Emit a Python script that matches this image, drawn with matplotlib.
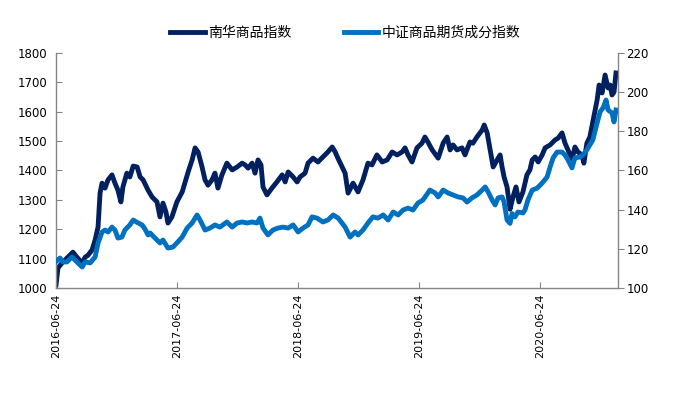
import matplotlib
matplotlib.use("Agg")
import matplotlib.pyplot as plt
import pandas as pd
import numpy as np

plt.rcParams['font.family'] = ['Noto Sans CJK SC', 'DejaVu Sans']

start_date = "2016-06-24"
end_offset_days = 1697

series_names = ["南华商品指数", "中证商品期货成分指数"]
tick_labels = ["2016-06-24", "2017-06-24", "2018-06-24", "2019-06-24", "2020-06-24"]

# 南华商品指数 (left axis): day offsets from start and values
nanhua_days = [0, 6, 18, 27, 36, 51, 63, 79, 88, 97, 109, 118, 127, 133, 139, 148, 157, 169, 178, 187,
               196, 202, 214, 223, 233, 245, 254, 263, 278, 290, 305, 314, 323, 332, 338, 350, 365, 381,
               390, 399, 411, 420, 429, 441, 450, 459, 471, 480, 489, 501, 516, 532, 547, 562, 571, 580,
               592, 601, 610, 619, 625, 637, 652, 667, 683, 692, 701, 716, 728, 737, 752, 761, 776, 791,
               806, 821, 834, 843, 852, 864, 873, 882, 897, 912, 927, 942, 954, 969, 985, 1000, 1015,
               1030, 1045, 1054, 1063, 1075, 1090, 1105, 1114, 1123, 1136, 1154, 1169, 1181, 1190, 1199,
               1211, 1226, 1235, 1250, 1259, 1271, 1287, 1293, 1302, 1311, 1320, 1332, 1341, 1347, 1353,
               1362, 1371, 1380, 1389, 1398, 1410, 1422, 1431, 1438, 1447, 1456, 1468, 1477, 1492, 1507,
               1516, 1528, 1537, 1546, 1558, 1567, 1576, 1588, 1594, 1603, 1612, 1621, 1634, 1640, 1649,
               1658, 1667, 1673, 1679, 1685, 1691]
nanhua_vals = [1010, 1068, 1085, 1095, 1105, 1122, 1105, 1085, 1105, 1112, 1130, 1163, 1208, 1323, 1357,
               1340, 1368, 1385, 1357, 1333, 1293, 1344, 1391, 1378, 1415, 1412, 1378, 1368, 1333, 1310,
               1293, 1242, 1289, 1259, 1221, 1242, 1293, 1327, 1361, 1395, 1436, 1477, 1463, 1412, 1368,
               1350, 1368, 1391, 1340, 1385, 1425, 1402, 1412, 1425, 1419, 1408, 1425, 1391, 1436, 1419,
               1344, 1317, 1340, 1361, 1385, 1361, 1395, 1378, 1361, 1378, 1391, 1425, 1442, 1429, 1446,
               1463, 1480, 1463, 1440, 1412, 1391, 1323, 1357, 1327, 1368, 1425, 1419, 1453, 1429, 1436,
               1463, 1453, 1463, 1477, 1453, 1429, 1477, 1493, 1514, 1497, 1470, 1442, 1493, 1514, 1470,
               1487, 1470, 1477, 1453, 1497, 1493, 1514, 1538, 1555, 1528, 1470, 1412, 1436, 1453, 1412,
               1378, 1344, 1268, 1310, 1344, 1293, 1327, 1385, 1402, 1436, 1446, 1429, 1453, 1477, 1487,
               1504, 1510, 1528, 1493, 1470, 1436, 1480, 1463, 1453, 1425, 1493, 1514, 1565, 1640, 1691,
               1664, 1725, 1681, 1691, 1657, 1667, 1732]

# 中证商品期货成分指数 (right axis)
csi_days = [0, 12, 21, 33, 48, 63, 79, 88, 103, 118, 127, 139, 148, 157, 169, 178, 187, 199, 208, 223,
            233, 248, 260, 269, 278, 284, 299, 314, 323, 338, 353, 365, 381, 396, 411, 426, 435, 450, 465,
            480, 495, 516, 532, 547, 562, 577, 592, 607, 616, 625, 640, 655, 670, 686, 701, 716, 731, 746,
            761, 773, 788, 806, 821, 837, 852, 873, 888, 903, 912, 927, 942, 957, 972, 988, 1003, 1018,
            1033, 1048, 1063, 1078, 1093, 1108, 1123, 1129, 1145, 1154, 1169, 1184, 1199, 1214, 1229,
            1241, 1256, 1271, 1287, 1296, 1305, 1317, 1326, 1335, 1347, 1353, 1362, 1371, 1377, 1386,
            1395, 1410, 1416, 1425, 1438, 1453, 1468, 1483, 1492, 1501, 1513, 1528, 1537, 1546, 1558,
            1567, 1582, 1591, 1603, 1612, 1621, 1634, 1643, 1652, 1661, 1667, 1679, 1685, 1691]
csi_vals = [113.5, 115.3, 113.3, 113.3, 115.8, 113.3, 110.7, 113.3, 112.8, 115.8, 123, 128.6, 129.6, 128.6,
            131.1, 129.6, 125.5, 126, 129.6, 132.2, 134.7, 133.2, 132.2, 130, 127.1, 128.1, 125.5, 123,
            124.5, 120.4, 120.9, 123, 126, 130.6, 133.2, 137.3, 134.7, 129.6, 130.6, 132.2, 131.1, 133.7,
            131.1, 133.2, 133.7, 133.2, 133.7, 133.2, 135.7, 130.6, 127.1, 129.6, 130.6, 131.1, 130.6,
            132.2, 128.6, 130.6, 132.2, 136.3, 135.7, 133.7, 134.7, 137.3, 135.7, 131.1, 126, 128.6,
            127.1, 129.6, 133.2, 136.3, 135.7, 137.3, 134.7, 138.8, 137.3, 139.8, 140.8, 139.8, 143.4,
            144.9, 148.5, 150, 148.5, 146.5, 150, 148.5, 147.5, 146.5, 146, 143.9, 146, 147.5, 150, 151.6,
            149, 144.9, 142.4, 146, 146.5, 143.9, 134.7, 133, 138, 136.3, 138.8, 138.3, 139.8, 144.9, 150,
            151, 153.6, 156.7, 161.8, 166.4, 169.4, 169.4, 167.9, 165.4, 161.3, 166.4, 166.9, 167.9, 170.5,
            173, 175.6, 184.3, 190, 192, 196, 190.9, 189.4, 184.8, 190.9]

dark = "#002060"
blue = "#0070C0"
axis_gray = "#868686"

t0 = pd.Timestamp(start_date)
nanhua_dates = t0 + pd.to_timedelta(nanhua_days, unit="D")
csi_dates = t0 + pd.to_timedelta(csi_days, unit="D")

fig = plt.figure(figsize=(6.74, 3.99), dpi=100)
ax = fig.add_axes([0.0831, 0.2782, 0.8338, 0.589])
ax2 = ax.twinx()

l1, = ax.plot(nanhua_dates, nanhua_vals, color=dark, lw=3.5, solid_joinstyle="round", zorder=2)
l2, = ax2.plot(csi_dates, csi_vals, color=blue, lw=3.5, solid_joinstyle="round", zorder=3)

ax.set_xlim(t0, t0 + pd.Timedelta(days=end_offset_days))
ax.set_ylim(1000, 1800)
ax.set_yticks(np.arange(1000, 1801, 100))
ax2.set_ylim(100, 220)
ax2.set_yticks(np.arange(100, 221, 20))

ticks = pd.to_datetime(tick_labels)
ax.set_xticks(ticks)
ax.set_xticklabels(tick_labels, rotation=90, fontsize=8, family="DejaVu Sans")

for a in (ax, ax2):
    a.spines["top"].set_visible(False)
    for s in ("left", "right", "bottom"):
        a.spines[s].set_color(axis_gray)
        a.spines[s].set_linewidth(1.0)

ax.spines["right"].set_visible(False)
ax2.spines["left"].set_visible(False)
ax2.spines["bottom"].set_visible(False)

ax.tick_params(axis="y", direction="in", length=4, color=axis_gray, labelsize=8.5, pad=6)
ax.tick_params(axis="x", direction="in", length=4, color=axis_gray, labelsize=8, pad=4)
ax2.tick_params(axis="y", direction="out", length=4, color=axis_gray, labelsize=8.5, pad=2)
for lab in ax.get_yticklabels() + ax2.get_yticklabels():
    lab.set_family("DejaVu Sans")

fig.legend([l1, l2], series_names, loc="center", bbox_to_anchor=(0.512, 0.917), ncol=2,
           frameon=False, fontsize=10, handlelength=2.5, handletextpad=0.2, columnspacing=3.8)

fig.savefig("out.png", dpi=100)
